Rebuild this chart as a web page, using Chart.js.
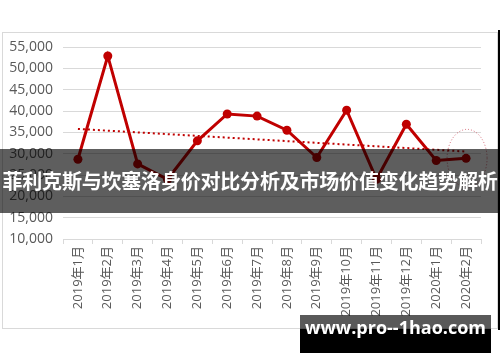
<!DOCTYPE html>
<html>
<head>
<meta charset="utf-8">
<script src="https://cdn.jsdelivr.net/npm/chart.js@4.4.0/dist/chart.umd.min.js"></script>
<style>
  html, body { margin: 0; padding: 0; background: #fff; }
  #wrap { position: relative; width: 500px; height: 362px; overflow: hidden; }
  #box { position: absolute; left: 2px; top: 32px; width: 494px; height: 295px; border: 1px solid #d9d9d9; }
  #edge { position: absolute; left: 498px; top: 30px; width: 2px; height: 300px; background: #000; }
  #band { position: absolute; left: 0; top: 149px; width: 500px; height: 64px; background: rgba(0,0,0,0.63);
          color: #fff; font: bold 20px 'Noto Sans CJK SC', sans-serif; line-height: 64px; text-align: center;
          white-space: nowrap; letter-spacing: -0.2px; }
  #markTop { position: absolute; left: 300px; top: 315px; width: 191px; height: 14px; background: rgba(0,0,0,0.65); }
  #mark { position: absolute; left: 300px; top: 329px; width: 191px; height: 24px; background: #000; }
  #markText { position: absolute; left: 300px; top: 315px; width: 191px; height: 38px; line-height: 40px;
              color: #fff; font: bold 18px 'Open Sans', sans-serif; text-align: center; white-space: nowrap; }
  canvas { position: absolute; left: 0; top: 0; }
</style>
</head>
<body>
<div id="wrap">
  <div id="box"></div>
  <canvas id="myChart" width="500" height="362"></canvas>
  <div id="edge"></div>
  <div id="band">菲利克斯与坎塞洛身价对比分析及市场价值变化趋势解析</div>
  <div id="markTop"></div>
  <div id="mark"></div>
  <div id="markText">www.pro--1hao.com</div>
</div>
<script>
// months on the x axis
var months = ['2019年1月', '2019年2月', '2019年3月', '2019年4月', '2019年5月', '2019年6月', '2019年7月',
              '2019年8月', '2019年9月', '2019年10月', '2019年11月', '2019年12月', '2020年1月', '2020年2月'];

// market value per month
var values = [28700, 52900, 27600, 24000, 33000, 39300, 38800, 35500, 29100, 40200, 24000, 36900, 28400, 28900];

// dotted trend line, start and end
var trendEnds = [35800, 30500];

// y axis range
var yMin = 10000;
var yMax = 55000;
var yStep = 5000;

var red = '#c00000';
var tickFont = "'Open Sans', 'Noto Sans CJK SC', sans-serif";

// dotted ellipse around the last point
var ringPlugin = {
    id: 'ring',
    afterDatasetsDraw: function (chart) {
        var meta = chart.getDatasetMeta(0);
        var pt = meta.data[meta.data.length - 1];
        var ctx = chart.ctx;
        ctx.save();
        ctx.strokeStyle = 'rgba(190,30,50,0.65)';
        ctx.lineWidth = 1;
        ctx.setLineDash([1, 2]);
        ctx.beginPath();
        ctx.ellipse(pt.x + 1, pt.y, 20, 29, 0, 0, Math.PI * 2);
        ctx.stroke();
        ctx.restore();
    }
};

var ctx = document.getElementById('myChart').getContext('2d');

window.myChart = new Chart(ctx, {
    type: 'line',
    data: {
        labels: months,
        datasets: [{
            data: values,
            borderColor: red,
            backgroundColor: red,
            borderWidth: 3,
            pointRadius: 4.5,
            pointBackgroundColor: red,
            pointBorderWidth: 0,
            tension: 0
        }, {
            data: [{ x: months[0], y: trendEnds[0] }, { x: months[months.length - 1], y: trendEnds[1] }],
            borderColor: red,
            borderWidth: 2,
            borderDash: [2, 3],
            pointRadius: 0,
            tension: 0
        }]
    },
    options: {
        responsive: false,
        animation: false,
        events: [],
        layout: { padding: { left: 3, right: 19, top: 47, bottom: 0 } },
        plugins: { legend: { display: false }, tooltip: { enabled: false } },
        scales: {
            x: {
                offset: true,
                grid: { drawOnChartArea: false, color: '#d9d9d9', tickLength: 5, offset: true },
                border: { color: '#d9d9d9' },
                ticks: {
                    color: '#595959',
                    font: { family: tickFont, size: 13 },
                    minRotation: 90,
                    maxRotation: 90,
                    padding: 2,
                    autoSkip: false
                },
                afterFit: function (scale) { scale.height = 123; }
            },
            y: {
                min: yMin,
                max: yMax,
                grid: { color: '#d9d9d9', drawTicks: false },
                border: { display: false },
                ticks: {
                    stepSize: yStep,
                    color: '#595959',
                    font: { family: tickFont, size: 14 },
                    padding: 10,
                    callback: function (v) { return v.toLocaleString('en-US'); }
                },
                afterFit: function (scale) { scale.width = 60; }
            }
        }
    },
    plugins: [ringPlugin]
});
</script>
</body>
</html>
